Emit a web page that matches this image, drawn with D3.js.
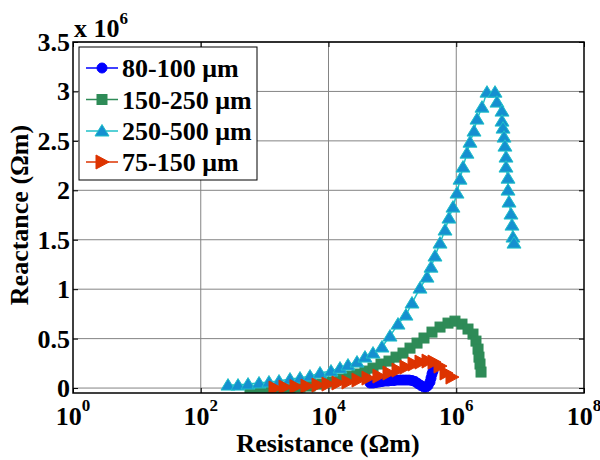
<!DOCTYPE html>
<html>
<head>
<meta charset="utf-8">
<script src="https://cdn.jsdelivr.net/npm/d3@7"></script>
<style>
  body { margin: 0; background: #fff; }
  svg text { font-family: "Liberation Serif", "Times New Roman", serif; font-weight: bold; fill: #000; }
</style>
</head>
<body>
<div id="chart"></div>
<script>
// Reactance vs resistance, four grain size classes
// resistance in Ohm m, reactance in units of 1e6 Ohm m

const seriesNames = ["80-100 \u03bcm", "150-250 \u03bcm", "250-500 \u03bcm", "75-150 \u03bcm"]

const res80 = [44670, 49770, 55460, 61800, 68870, 76740, 85500, 95100, 105900, 118100, 131600, 146600,
  163300, 182000, 202800, 226000, 251800, 280500, 312600, 336500, 361400, 388200, 402700, 417000, 432500]
const reac80 = [0.051, 0.051, 0.056, 0.061, 0.066, 0.071, 0.071, 0.076, 0.076, 0.081, 0.081, 0.081,
  0.081, 0.081, 0.076, 0.066, 0.045, 0.025, 0.010, 0.010, 0.025, 0.061, 0.101, 0.142, 0.172]

const res150 = [590, 847, 1213, 1741, 2495, 3581, 5129, 7362, 10550, 15140, 20950, 27930, 37240, 49770,
  66370, 88510, 114000, 146600, 188800, 243200, 312600, 417000, 557200, 743000, 955000, 1230000,
  1528000, 1829000, 2037000, 2193000, 2270000, 2355000, 2443000]
const reac150 = [-0.030, -0.025, -0.020, -0.010, 0.000, 0.010, 0.020, 0.040, 0.061, 0.091, 0.121, 0.142,
  0.172, 0.202, 0.243, 0.273, 0.313, 0.354, 0.404, 0.455, 0.506, 0.566, 0.617, 0.657, 0.677, 0.647,
  0.597, 0.546, 0.475, 0.394, 0.313, 0.243, 0.162]

const res250 = [267, 383, 550, 817, 1169, 1679, 2495, 3581, 5129, 7362, 10940, 15140, 20180, 27930,
  37240, 49770, 68710, 91830, 122500, 163300, 202800, 270400, 348300, 402700, 464500, 557200, 666800,
  769100, 889200, 1028000, 1146000, 1276000, 1472000, 1641000, 1897000, 2113000, 2529000, 3027000,
  4046000, 4345000, 5200000, 5200000, 5400000, 5600000, 5790000, 6010000, 6010000, 6460000, 6460000,
  6700000, 7190000, 7460000, 7730000, 8020000]
const reac250 = [0.030, 0.030, 0.040, 0.051, 0.061, 0.071, 0.091, 0.101, 0.121, 0.152, 0.172, 0.202,
  0.233, 0.263, 0.313, 0.354, 0.415, 0.526, 0.647, 0.738, 0.860, 1.011, 1.122, 1.223, 1.335, 1.466,
  1.598, 1.719, 1.830, 1.972, 2.113, 2.235, 2.376, 2.487, 2.599, 2.720, 2.841, 2.993, 2.993, 2.892,
  2.801, 2.700, 2.629, 2.538, 2.447, 2.336, 2.235, 2.123, 2.002, 1.881, 1.760, 1.648, 1.527, 1.466]

const res75 = [1453, 2084, 3097, 4604, 6850, 9820, 14090, 20180, 28970, 41500, 61660, 88510, 122500,
  163300, 218300, 280500, 361400, 448700, 557200, 691800, 857000]
const reac75 = [0.000, 0.010, 0.015, 0.020, 0.030, 0.040, 0.051, 0.061, 0.081, 0.101, 0.121, 0.152,
  0.182, 0.212, 0.243, 0.263, 0.273, 0.263, 0.222, 0.152, 0.111]

const xTicks = [1, 1e2, 1e4, 1e6, 1e8]
const xTickExp = ["0", "2", "4", "6", "8"]
const yTicks = [0, 0.5, 1, 1.5, 2, 2.5, 3, 3.5]
const yTickLabels = ["0", "0.5", "1", "1.5", "2", "2.5", "3", "3.5"]

const series = [
  { name: seriesNames[0], x: res80, y: reac80, line: "#0000ff", fill: "#0000ff", stroke: "#0000ff", marker: "circle" },
  { name: seriesNames[1], x: res150, y: reac150, line: "#2e8b57", fill: "#2e8b57", stroke: "#2e8b57", marker: "square" },
  { name: seriesNames[2], x: res250, y: reac250, line: "#1fc0c8", fill: "#1590d0", stroke: "#1fc0c8", marker: "up" },
  { name: seriesNames[3], x: res75, y: reac75, line: "#dd3300", fill: "#dd3300", stroke: "#dd3300", marker: "right" }
]

const W = 600, H = 460
const pLeft = 73, pRight = 584, pTop = 42, pBottom = 393

const svg = d3.select("#chart").append("svg")
  .attr("width", W)
  .attr("height", H)

const x = d3.scaleLog().domain([1, 1e8]).range([pLeft, pRight])
const y = d3.scaleLinear().domain([-0.05, 3.5]).range([pBottom, pTop])

// grid
const grid = svg.append("g")
grid.selectAll(".gx")
  .data(xTicks.slice(1, -1))
  .enter().append("line")
  .attr("x1", d => x(d)).attr("x2", d => x(d))
  .attr("y1", pTop).attr("y2", pBottom)
  .attr("stroke", "#848484").attr("stroke-width", 1)
grid.selectAll(".gy")
  .data(yTicks)
  .enter().append("line")
  .attr("x1", pLeft).attr("x2", pRight)
  .attr("y1", d => y(d)).attr("y2", d => y(d))
  .attr("stroke", "#848484").attr("stroke-width", 1)

// inward ticks on all sides
const tl = 5
svg.append("g").call(d3.axisBottom(x).tickValues(xTicks).tickSize(-tl).tickFormat(""))
  .attr("transform", `translate(0,${pBottom})`)
svg.append("g").call(d3.axisTop(x).tickValues(xTicks).tickSize(-tl).tickFormat(""))
  .attr("transform", `translate(0,${pTop})`)
svg.append("g").call(d3.axisLeft(y).tickValues(yTicks).tickSize(-tl).tickFormat(""))
  .attr("transform", `translate(${pLeft},0)`)
svg.append("g").call(d3.axisRight(y).tickValues(yTicks).tickSize(-tl).tickFormat(""))
  .attr("transform", `translate(${pRight},0)`)
svg.selectAll(".domain").remove()
svg.selectAll(".tick line").attr("stroke", "#000").attr("stroke-width", 1)

// tick labels
xTicks.forEach((t, i) => {
  const tx = svg.append("text")
    .attr("x", x(t))
    .attr("y", 425)
    .attr("text-anchor", "middle")
    .style("font-size", "26px")
  tx.append("tspan").text("10")
  tx.append("tspan").attr("dy", -14).style("font-size", "17px").text(xTickExp[i])
})

yTicks.forEach((t, i) => {
  svg.append("text")
    .attr("x", 70)
    .attr("y", y(t) + 9)
    .attr("text-anchor", "end")
    .style("font-size", "26px")
    .text(yTickLabels[i])
})

// exponent note
const mult = svg.append("text")
  .attr("x", 74)
  .attr("y", 37)
  .style("font-size", "26px")
mult.append("tspan").text("x 10")
mult.append("tspan").attr("dy", -13).style("font-size", "17px").text("6")

// axis labels
svg.append("text")
  .attr("x", 328)
  .attr("y", 452)
  .attr("text-anchor", "middle")
  .style("font-size", "26px")
  .text("Resistance (\u03a9m)")

svg.append("text")
  .attr("transform", "translate(28,215) rotate(-90)")
  .attr("text-anchor", "middle")
  .style("font-size", "26px")
  .text("Reactance (\u03a9m)")

// markers
function drawMarker(g, type) {
  if (type === "circle") {
    return g.append("circle").attr("r", 5)
  } else if (type === "square") {
    return g.append("rect").attr("x", -5).attr("y", -5).attr("width", 10).attr("height", 10)
  } else if (type === "up") {
    return g.append("path").attr("d", "M0,-6.5L7,5L-7,5Z")
  } else {
    return g.append("path").attr("d", "M7,0L-6,-7L-6,7Z")
  }
}

svg.append("clipPath").attr("id", "plotclip")
  .append("rect").attr("x", pLeft).attr("y", pTop)
  .attr("width", pRight - pLeft).attr("height", pBottom - pTop)

const plot = svg.append("g").attr("clip-path", "url(#plotclip)")

const line = d3.line().x(d => x(d[0])).y(d => y(d[1]))

series.forEach(s => {
  const pts = s.x.map((v, i) => [v, s.y[i]])
  plot.append("path")
    .datum(pts)
    .attr("d", line)
    .attr("fill", "none")
    .attr("stroke", s.line)
    .attr("stroke-width", s.marker === "circle" ? 5 : 1.5)

  pts.forEach(p => {
    const g = plot.append("g").attr("transform", `translate(${x(p[0])},${y(p[1])})`)
    drawMarker(g, s.marker)
      .attr("fill", s.fill)
      .attr("stroke", s.stroke)
      .attr("stroke-width", 1)
  })
})

// axes box
svg.append("rect")
  .attr("x", pLeft).attr("y", pTop)
  .attr("width", pRight - pLeft).attr("height", pBottom - pTop)
  .attr("fill", "none")
  .attr("stroke", "#000")
  .attr("stroke-width", 1.5)

// legend
const lg = svg.append("g")
lg.append("rect")
  .attr("x", 79).attr("y", 47)
  .attr("width", 178).attr("height", 133)
  .attr("fill", "#fff")
  .attr("stroke", "#000")
  .attr("stroke-width", 1)

const legendY = [68, 99.5, 131, 162]
series.forEach((s, i) => {
  const ly = legendY[i]
  lg.append("line")
    .attr("x1", 86).attr("x2", 118)
    .attr("y1", ly).attr("y2", ly)
    .attr("stroke", s.line)
    .attr("stroke-width", 1.5)
  const g = lg.append("g").attr("transform", `translate(102,${ly})`)
  drawMarker(g, s.marker)
    .attr("fill", s.fill)
    .attr("stroke", s.stroke)
    .attr("stroke-width", 1)
  lg.append("text")
    .attr("x", 122)
    .attr("y", ly + 9)
    .style("font-size", "26px")
    .text(s.name)
})
</script>
</body>
</html>
